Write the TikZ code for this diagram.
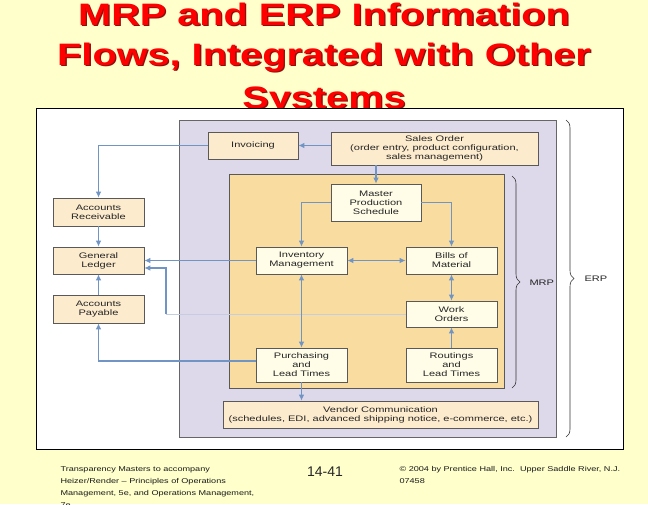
\documentclass[tikz,border=0pt]{standalone}
\usepackage{fontspec}
\setmainfont{Liberation Sans}
\newfontfamily\boxfont[FakeStretch=1.38]{Liberation Sans}
\newfontfamily\footfont[FakeStretch=1.3]{Liberation Sans}
\newfontfamily\titlefont[FakeStretch=1.28]{Liberation Sans}
\usetikzlibrary{arrows.meta,decorations.pathreplacing,calc}
\definecolor{pagebg}{HTML}{FFFFCC}
\definecolor{lav}{HTML}{DDD9EA}
\definecolor{mrporange}{HTML}{F9DDA0}
\definecolor{peach}{HTML}{FCEBCD}
\definecolor{ivory}{HTML}{FFFDE8}
\definecolor{flow}{HTML}{7095C5}
\definecolor{faintflow}{HTML}{C5CEE0}
\definecolor{titlered}{HTML}{FF0000}
\definecolor{titleshadow}{HTML}{8A1010}
\tikzset{
  box/.style={draw=black!65, line width=0.6pt, inner sep=0pt, align=center,
    font=\boxfont\fontsize{8}{9}\selectfont, text=black!85},
  outbox/.style={box, fill=peach},
  inbox/.style={box, fill=ivory},
  flowline/.style={draw=flow, line width=1.1pt},
  arr/.style={flowline, -{Latex[length=6pt,width=5.5pt]}},
  dblarr/.style={flowline, {Latex[length=6pt,width=5.5pt]}-{Latex[length=6pt,width=5.5pt]}},
  bracestyle/.style={draw=black!80, line width=0.6pt, decorate,
    decoration={brace, amplitude=8pt}},
  titletext/.style={font=\titlefont\fontsize{31}{40}\selectfont\bfseries, anchor=base},
  foot/.style={font=\footfont\fontsize{7}{12}\selectfont, anchor=base west, text=black!90},
  sidelabel/.style={font=\boxfont\fontsize{8}{9}\selectfont, anchor=west, text=black!85},
}
\begin{document}
\begin{tikzpicture}[x=1pt,y=-1pt]
\useasboundingbox (0,0) rectangle (648,504);
\fill[pagebg] (0,0) rectangle (648,504);

% title
\foreach \t/\yy [count=\i] in {MRP and ERP Information/25, {Flows, Integrated with Other}/65, Systems/108}{
  \node[titletext, text=titleshadow] at (325.3,\yy+1.3) {\t};
  \node[titletext, text=titlered] (title\i) at (324,\yy) {\t};
}

% white panel
\filldraw[fill=white, draw=black, line width=1pt] (36,108) rectangle (623,449);

% ERP and MRP regions
\filldraw[fill=lav, draw=black!60, line width=0.8pt] (179,120) rectangle (556,437);
\filldraw[fill=mrporange, draw=black!65, line width=0.8pt] (229,174) rectangle (504,388);

% boxes
\node[outbox, minimum width=90pt, minimum height=27pt] (invoicing) at (253,145.5) {Invoicing};
\node[outbox, minimum width=207pt, minimum height=33pt] (sales) at (434.5,148.5)
  {Sales Order\\(order entry, product configuration,\\sales management)};
\node[inbox, minimum width=90pt, minimum height=37pt] (mps) at (376,202.5)
  {Master\\Production\\Schedule};
\node[inbox, minimum width=91pt, minimum height=27pt] (inventory) at (301.5,260.5)
  {Inventory\\Management};
\node[inbox, minimum width=91pt, minimum height=27pt] (bills) at (451.5,260.5)
  {Bills of\\Material};
\node[inbox, minimum width=91pt, minimum height=26pt] (work) at (451.5,314)
  {Work\\Orders};
\node[inbox, minimum width=91pt, minimum height=34pt] (purch) at (301.5,365)
  {Purchasing\\and\\Lead Times};
\node[inbox, minimum width=91pt, minimum height=34pt] (routings) at (451.5,365)
  {Routings\\and\\Lead Times};
\node[outbox, minimum width=315pt, minimum height=27pt] (vendor) at (380.5,414.5)
  {Vendor Communication\\(schedules, EDI, advanced shipping notice, e-commerce, etc.)};
\node[outbox, minimum width=91pt, minimum height=28pt] (ar) at (98.5,212)
  {Accounts\\Receivable};
\node[outbox, minimum width=91pt, minimum height=27pt] (gl) at (98.5,260.5)
  {General\\Ledger};
\node[outbox, minimum width=91pt, minimum height=28pt] (ap) at (98.5,309)
  {Accounts\\Payable};

% connectors
\coordinate (wturn) at (166,314);
\coordinate (wup) at (166,268);
\draw[draw=faintflow, line width=1pt] (work.west) -- (wturn);
\draw[arr] (wturn) -- (wup) -- (wup -| gl.east);

\draw[arr] (invoicing.east -| sales.west) -- (invoicing.east);
\draw[arr] (invoicing.west) -| (ar.north);
\draw[arr] (ar.south) -- (gl.north);
\draw[arr] (ap.north) -- (gl.south);
\draw[arr] (inventory.west) -- (gl.east);
\draw[arr] ([yshift=4pt]purch.west) -| (ap.south);
\draw[arr] (sales.south -| mps.north) -- (mps.north);
\draw[arr] (mps.west) -| (inventory.north);
\draw[arr] (mps.east) -| (bills.north);
\draw[dblarr] (inventory.east) -- (bills.west);
\draw[dblarr] (bills.south) -- (work.north);
\draw[arr] (routings.north) -- (work.south);
\draw[dblarr] (inventory.south) -- (purch.north);
\draw[arr] (purch.south) -- (purch.south |- vendor.north);

% braces
\draw[bracestyle] (512,176) -- (512,388);
\node[sidelabel] (mrp) at (526,283) {MRP};
\draw[bracestyle] (566,120) -- (566,437);
\node[sidelabel] (erp) at (581,279) {ERP};

% footer
\node[foot] (f1) at (57,471) {Transparency Masters to accompany};
\node[foot] (f2) at (57,483) {Heizer/Render – Principles of Operations};
\node[foot] (f3) at (57,495) {Management, 5e, and Operations Management,};
\node[foot] (f4) at (57,507) {7e};
\node[font=\fontsize{14}{16}\selectfont, anchor=base, text=black!85] (pg) at (325,476) {14-41};
\node[foot] (c1) at (396,471) {\char"00A9{} 2004 by Prentice Hall, Inc.\ \ Upper Saddle River, N.J.};
\node[foot] (c2) at (396,483) {07458};
\end{tikzpicture}
\end{document}
